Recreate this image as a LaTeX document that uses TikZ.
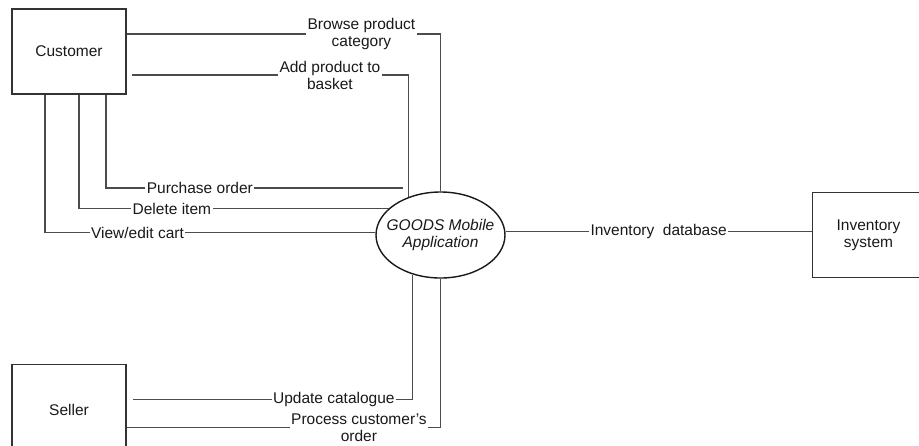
\documentclass[tikz,border=0pt]{standalone}
\usepackage{fontspec}
\setmainfont{Liberation Sans}
\usetikzlibrary{shapes.geometric, positioning}

\begin{document}
\begin{tikzpicture}[x=1pt, y=-1pt, font=\fontsize{15.5}{17}\selectfont, text=black!90, entity/.style={rectangle, draw=black!80, line width=1.6pt, minimum width=114pt, minimum height=85pt, inner sep=0pt, align=center}, process/.style={ellipse, draw=black!90, line width=1.4pt, minimum width=129pt, minimum height=86pt, inner xsep=-9pt, inner ysep=0pt, align=center, font=\fontsize{15.5}{17}\selectfont\itshape}, flow/.style={draw=black!70, line width=1.3pt}, flowlabel/.style={fill=white, inner sep=1.5pt, align=center}]

    \useasboundingbox (0,0) rectangle (919,445);
    \clip (0,0) rectangle (919,445);

    %Nodes
    \node[entity](customer) at (69,51.5){Customer};
    \node[entity, minimum height=90pt](seller)[below=269pt of customer]{Seller};
    \node[process](app) at (440.5,235){GOODS Mobile\\Application};
    \node[entity, minimum width=112pt](inventory)[right=306pt of app]{Inventory\\system};
    \coordinate (po_end) at (403,188);

    %Lines
    \draw[flow] ([yshift=17.5pt]customer.east) -| (app.north) node[flowlabel, pos=0.374]{Browse product\\category};
    \draw[flow] ([xshift=5pt, yshift=-23.5pt]customer.east) -| (app.130) node[flowlabel, pos=0.358]{Add product to\\basket};
    \draw[flow] ([xshift=37pt]customer.south) |- (po_end) node[flowlabel, pos=0.658]{Purchase order};
    \draw[flow] ([xshift=10pt]customer.south) |- (app.153) node[flowlabel, pos=0.65]{Delete item};
    \draw[flow] ([xshift=-24pt]customer.south) |- (app.178) node[flowlabel, pos=0.64]{View/edit cart};
    \draw[flow] (app.3) -- (app.3 -| inventory.west) node[flowlabel, pos=0.5]{Inventory\ \ database};
    \draw[flow] ([xshift=6pt, yshift=10pt]seller.east) -| (app.235) node[flowlabel, pos=0.359]{Update catalogue};
    \draw[flow] ([yshift=-18pt]seller.east) -| (app.south) node[flowlabel, pos=0.370]{Process customer's\\order};

\end{tikzpicture}
\end{document}
